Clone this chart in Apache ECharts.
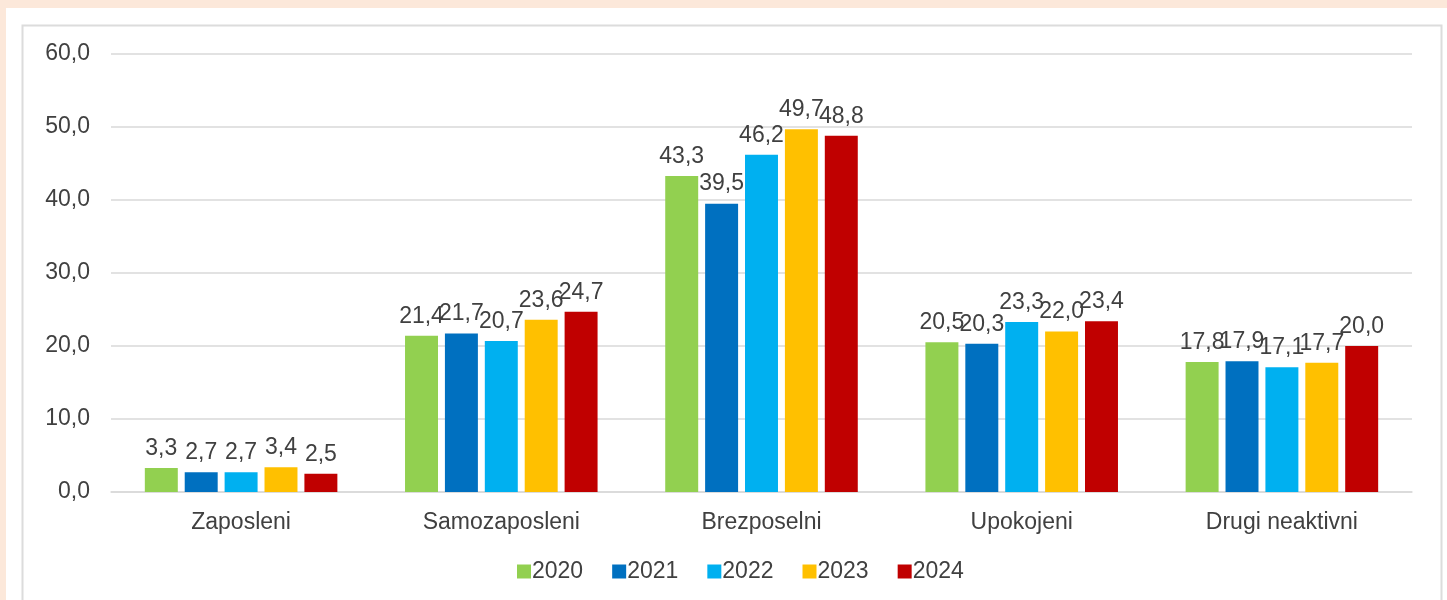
<!DOCTYPE html>
<html>
<head>
<meta charset="utf-8">
<script src="https://cdn.jsdelivr.net/npm/echarts@6/dist/echarts.min.js"></script>
<style>
  html, body { margin: 0; padding: 0; background: #fce8da; }
  #main { width: 1447px; height: 600px; }
</style>
</head>
<body>
<div id="main"></div>
<script>
// kategorije i vrijednosti po godinama
const categories = ['Zaposleni', 'Samozaposleni', 'Brezposelni', 'Upokojeni', 'Drugi neaktivni'];
const years = ['2020', '2021', '2022', '2023', '2024'];
const v2020 = [3.3, 21.4, 43.3, 20.5, 17.8];
const v2021 = [2.7, 21.7, 39.5, 20.3, 17.9];
const v2022 = [2.7, 20.7, 46.2, 23.3, 17.1];
const v2023 = [3.4, 23.6, 49.7, 22.0, 17.7];
const v2024 = [2.5, 24.7, 48.8, 23.4, 20.0];
const colors = ['#92d050', '#0070c0', '#00b0f0', '#ffc000', '#c00000'];

const fmt = v => v.toFixed(1).replace('.', ',');
const allValues = [v2020, v2021, v2022, v2023, v2024];

let myChart = echarts.init(document.getElementById('main'));
myChart.setOption({
    backgroundColor: '#fce8da',
    color: colors,
    textStyle: { fontFamily: 'Liberation Sans, Arial, sans-serif' },
    graphic: [
        { type: 'rect', shape: { x: 6, y: 8, width: 1441, height: 592 }, style: { fill: '#ffffff' }, z: -10 },
        { type: 'rect', shape: { x: 22.5, y: 25.5, width: 1419, height: 600 }, style: { fill: 'none', stroke: '#dcdcdc', lineWidth: 2 }, z: -9 }
    ],
    grid: { left: 111, right: 35, top: 54, bottom: 108 },
    legend: {
        top: 555,
        left: 512,
        itemWidth: 14,
        itemHeight: 14,
        itemGap: 29,
        icon: 'rect',
        textStyle: { fontSize: 23, color: '#404040', padding: [0, 0, 0, -4] },
        data: years
    },
    xAxis: {
        type: 'category',
        data: categories,
        axisLine: { lineStyle: { color: '#d9d9d9', width: 1.5 } },
        axisTick: { show: false },
        axisLabel: { fontSize: 23, color: '#404040', margin: 19 }
    },
    yAxis: {
        type: 'value',
        min: 0,
        max: 60,
        interval: 10,
        axisLine: { show: false },
        axisTick: { show: false },
        splitLine: { lineStyle: { color: '#d9d9d9', width: 1.5 } },
        axisLabel: { fontSize: 23, color: '#404040', margin: 21, formatter: v => fmt(v) }
    },
    series: years.map((y, i) => ({
        name: y,
        type: 'bar',
        data: allValues[i],
        barGap: '21%',
        barCategoryGap: '26%',
        label: {
            show: true,
            position: 'top',
            distance: 8,
            fontSize: 23,
            color: '#404040',
            formatter: p => fmt(p.value)
        }
    }))
});
</script>
</body>
</html>
